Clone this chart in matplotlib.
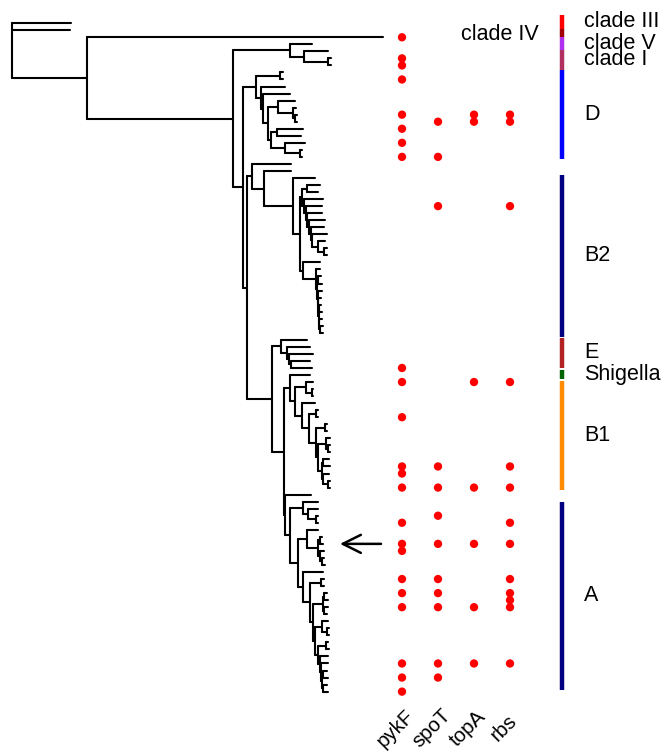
import matplotlib
matplotlib.use("Agg")
import matplotlib.pyplot as plt
from matplotlib.collections import LineCollection

plt.rcParams['font.family'] = ['Liberation Sans', 'DejaVu Sans']

# tree (newick, branch lengths), tips t0..t95 top to bottom
newick = (
    "(t0:58.5,t1:57.5,"
    "(t2:296,"
    "((t3:22,(t4:24,(t5:3,t6:3):24):14):57,"
    "(((t7:3,t8:3):24,(t9:24,(t10:27,((t11:17,(t12:3,(t13:2,t14:2):2):15):10,"
    "((t15:26,t16:24):6,(t17:20,(t18:2,t19:2):15):14):3):5):2):5):13,"
    "((t20:39,(t21:27,(t22:22,"
    "(((t23:13,t24:11):5,(t25:19,(t26:16,(t27:15,(t28:16,(t29:13,(t30:15,(t31:7,(t32:3,t33:3):6):6):1):2):2):1):2):2):2,"
    "(t34:17,(t35:4,((t36:3,t37:4):1,(t38:4,(t39:3,((t40:2,t41:3):0.5,(t42:3,(t43:3,t44:3):0.5):0.5):0.5):0.5):0.5):1):13):3):7):29):12):5,"
    "((t45:26,(t46:23,(t47:24,(t48:19,t49:21):2):2):6):9,"
    "((t50:20,((t51:7,(t52:1.5,t53:1.5):5.5):11,(t54:13.3,((t55:2,t56:2):7,((t57:2,t58:2):9,"
    "((t59:4,(t60:2,t61:2):2):8,((t62:6,t63:7):1,(t64:6,(t65:2,t66:2):5):1):4):2):7):7.3):6.7):5):6.5,"
    "(t67:26.5,((t68:15,(t69:10,(t70:2,t71:2):8):5):13,((t72:11,((t73:2,t74:3):2,(t75:4,(t76:2,t77:3):2):2):11):9,"
    "(t78:20,((t79:3,t80:3):11,(((t81:3,t82:4):1,(t83:4,t84:3):1):10,((t85:6,(t86:2,t87:2):5):7,"
    "((t88:2,t89:3):8,(t90:8,(t91:7,((t92:4,t93:5):1,(t94:4,t95:5):1):1):1):2):3):2):3):7):5):8):5.5):1):11.5):25):4):10):146):75);"
)

# red dots: tip indices per gene
genes = ['pykF', 'spoT', 'topA', 'rbs']
pykF_tips = [2, 5, 6, 8, 13, 15, 17, 19, 49, 51, 56, 63, 64, 66, 71, 74, 75, 79, 81, 83, 91, 93, 95]
spoT_tips = [14, 19, 26, 63, 66, 70, 74, 79, 81, 83, 91, 93]
topA_tips = [13, 14, 51, 66, 74, 83, 91]
rbs_tips = [13, 14, 26, 51, 63, 66, 71, 74, 79, 81, 82, 83, 91]

# clade bars (tip units, start / end) and colours
clades = ['clade III', 'clade IV', 'clade V', 'clade I', 'D', 'B2', 'E', 'Shigella', 'B1', 'A']
clade_start = [-1.17, 0.82, 1.95, 3.8, 6.65, 21.6, 44.7, 49.3, 50.8, 68.0]
clade_end = [0.82, 1.95, 3.8, 6.65, 19.3, 44.55, 49.0, 50.6, 66.3, 94.8]
clade_cols = ['#FF0000', '#A00000', '#B030F0', '#B03060', '#0000FF', '#000080',
              '#B22222', '#006400', '#FF8C00', '#000080']

arrow_tip = 74


def parse(s):
    pos = [0]

    def node():
        kids = []
        name = ''
        if s[pos[0]] == '(':
            pos[0] += 1
            while True:
                kids.append(node())
                c = s[pos[0]]
                pos[0] += 1
                if c == ')':
                    break
        while s[pos[0]] not in ':,);':
            name += s[pos[0]]
            pos[0] += 1
        length = 0.0
        if s[pos[0]] == ':':
            pos[0] += 1
            num = ''
            while s[pos[0]] not in ',);':
                num += s[pos[0]]
                pos[0] += 1
            length = float(num)
        return {'name': name, 'len': length, 'kids': kids}

    return node()


tree = parse(newick)
segs = []


def layout(n, x0):
    x = x0 + n['len']
    if not n['kids']:
        y = int(n['name'][1:])
    else:
        ys = [layout(k, x) for k in n['kids']]
        y = (min(ys) + max(ys)) / 2
        segs.append([(x, min(ys)), (x, max(ys))])
    if n['len'] > 0:
        segs.append([(x0, y), (x, y)])
    return y


layout(tree, 0.0)

fig = plt.figure(figsize=(6.65, 7.54), dpi=100)
ax = fig.add_axes([0, 0, 1, 1])
ax.set_xlim(-12, 653)
ax.set_ylim((754 - 23.2) / 7.036, -23.2 / 7.036)
ax.axis('off')

ax.add_collection(LineCollection(segs, colors='black', linewidths=1.5, capstyle='round'))

col_x = [390, 426, 462, 498]
for gx, tips in zip(col_x, [pykF_tips, spoT_tips, topA_tips, rbs_tips]):
    ax.scatter([gx] * len(tips), tips, s=36, color='red', edgecolors='none', zorder=3)

for gx, g in zip(col_x, genes):
    ax.text(gx - 6, 100.2, g, fontsize=14.8, rotation=45, ha='center', va='center',
            rotation_mode='anchor')

for name, a, b, c in zip(clades, clade_start, clade_end, clade_cols):
    ax.plot([550, 550], [a, b], color=c, lw=3.2, solid_capstyle='butt')
    if name == 'clade IV':
        ax.text(527, (a + b) / 2 + 0.2, name, fontsize=15.5, ha='right', va='center')
    else:
        ax.text(572, (a + b) / 2, name, fontsize=15.5, ha='left', va='center')

ax.annotate('', xy=(328, arrow_tip), xytext=(369, arrow_tip),
            arrowprops=dict(arrowstyle='->,head_length=1.3,head_width=0.65',
                            mutation_scale=10, lw=1.8, color='black',
                            shrinkA=0, shrinkB=0))

fig.savefig('out.png', dpi=100)
